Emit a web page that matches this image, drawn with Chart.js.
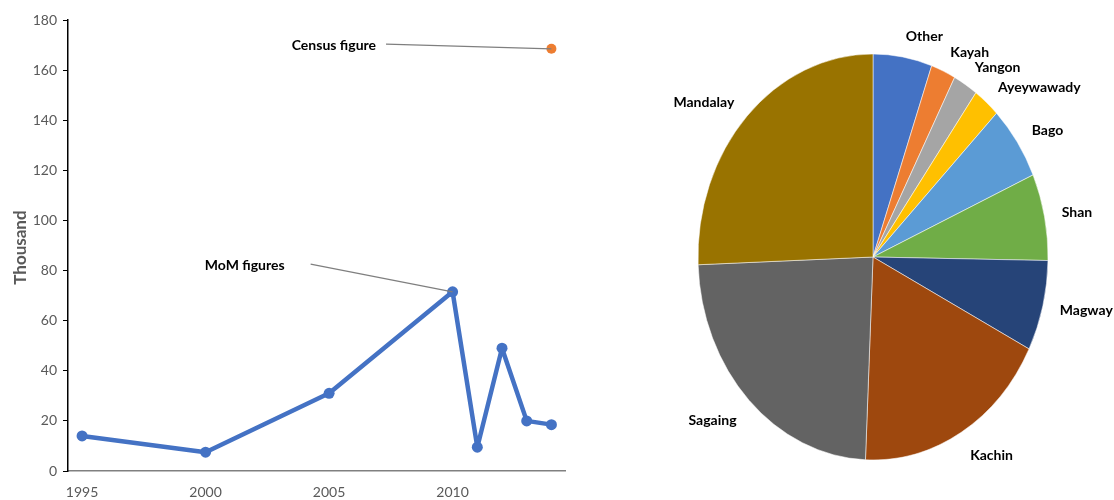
<!DOCTYPE html>
<html>
<head>
<meta charset="utf-8">
<script src="https://cdn.jsdelivr.net/npm/chart.js@4/dist/chart.umd.min.js"></script>
<style>
  html, body { margin: 0; padding: 0; background: #fff; }
  #wrap { position: relative; width: 1114px; height: 500px; }
  #lineBox { position: absolute; left: 0; top: 0; width: 580px; height: 500px; }
  #pieBox { position: absolute; left: 580px; top: 0; width: 534px; height: 500px; }
</style>
</head>
<body>
<div id="wrap">
  <div id="lineBox"><canvas id="lineChart" width="580" height="500"></canvas></div>
  <div id="pieBox"><canvas id="pieChart" width="534" height="500"></canvas></div>
</div>
<script>
// line chart data (thousand)
const years = [1995, 2000, 2005, 2010, 2011, 2012, 2013, 2014];
const momFigures = [14, 7.5, 31, 71.5, 9.5, 49, 20, 18.5];
const censusYear = [2014];
const censusFigure = [168.5];
const yTicks = [0, 20, 40, 60, 80, 100, 120, 140, 160, 180];
const xTicks = [1995, 2000, 2005, 2010];

// annotation text, anchored in data units at the right end of the text
const noteTexts = ['Census\u00a0figure', 'MoM\u00a0figures'];
const noteX = [2006.9, 2003.2];
const noteY = [170, 82.2];
const noteGap = [10, 26];

// pie data (share, %)
const regions = ['Other', 'Kayah', 'Yangon', 'Ayeywawady', 'Bago', 'Shan', 'Magway', 'Kachin', 'Sagaing', 'Mandalay'];
const shares = [5.44, 2.28, 2.28, 2.47, 5.9, 6.9, 7.2, 18.2, 23.7, 25.6];
const pieColors = ['#4472C4', '#ED7D31', '#A5A5A5', '#FFC000', '#5B9BD5', '#70AD47', '#264478', '#9E480E', '#636363', '#997300'];

const labelFont = "'Lato', 'Liberation Sans', sans-serif";

const notesPlugin = {
  id: 'notes',
  afterDatasetsDraw(chart) {
    const ctx = chart.ctx;
    const xs = chart.scales.x, ys = chart.scales.y;
    const targets = [chart.getDatasetMeta(1).data[0], chart.getDatasetMeta(0).data[3]];
    ctx.save();
    for (let i = 0; i < noteTexts.length; i++) {
      const tx = xs.getPixelForValue(noteX[i]);
      const ty = ys.getPixelForValue(noteY[i]);
      ctx.font = "bold 14px " + labelFont;
      ctx.fillStyle = '#000';
      ctx.textAlign = 'right';
      ctx.textBaseline = 'middle';
      ctx.fillText(noteTexts[i], tx, ty);
      ctx.strokeStyle = '#7f7f7f';
      ctx.lineWidth = 1.2;
      ctx.beginPath();
      ctx.moveTo(tx + noteGap[i], ty - 1);
      ctx.lineTo(targets[i].x, targets[i].y);
      ctx.stroke();
    }
    ctx.restore();
  }
};

new Chart(document.getElementById('lineChart'), {
  type: 'line',
  data: {
    datasets: [
      {
        data: years.map((y, i) => ({ x: y, y: momFigures[i] })),
        borderColor: '#4472C4',
        backgroundColor: '#4472C4',
        borderWidth: 4.5,
        borderJoinStyle: 'round',
        borderCapStyle: 'round',
        pointRadius: 5.5,
        pointBorderWidth: 0,
        tension: 0
      },
      {
        data: censusYear.map((y, i) => ({ x: y, y: censusFigure[i] })),
        borderColor: '#ED7D31',
        backgroundColor: '#ED7D31',
        pointRadius: 5,
        pointBorderWidth: 0,
        showLine: false
      }
    ]
  },
  options: {
    responsive: false,
    animation: false,
    layout: { padding: { top: 20, right: 15, left: 10, bottom: 0 } },
    plugins: { legend: { display: false }, tooltip: { enabled: false } },
    scales: {
      x: {
        type: 'linear',
        min: 1994.43,
        max: 2014.55,
        afterBuildTicks: s => { s.ticks = xTicks.map(v => ({ value: v })); },
        afterFit: s => { s.height = 29; },
        grid: { display: false, drawTicks: false },
        border: { color: '#808080', width: 1.5 },
        ticks: {
          color: '#595959', font: { family: labelFont, size: 14 }, padding: 13, maxRotation: 0,
          callback: v => String(v)
        }
      },
      y: {
        min: 0,
        max: 180,
        afterBuildTicks: s => { s.ticks = yTicks.map(v => ({ value: v })); },
        afterFit: s => { s.width = 58; },
        grid: { drawOnChartArea: false, drawTicks: true, tickLength: 5, color: '#000' },
        border: { color: '#000', width: 1.5 },
        ticks: { color: '#595959', font: { family: labelFont, size: 14 }, padding: 6 },
        title: {
          display: true,
          text: 'Thousand\u00a0',
          color: '#595959',
          font: { family: labelFont, size: 17, weight: 'bold' },
          padding: { top: 0, bottom: 6 }
        }
      }
    }
  },
  plugins: [notesPlugin]
});

// pie is drawn as an ellipse (taller than wide), like the reference
const stretchY = 203 / 175;
const stretchPlugin = {
  id: 'stretch',
  beforeDatasetsDraw(chart) {
    const arc = chart.getDatasetMeta(0).data[0];
    const ctx = chart.ctx;
    ctx.save();
    ctx.translate(0, arc.y);
    ctx.scale(1, stretchY);
    ctx.translate(0, -arc.y);
  },
  afterDatasetsDraw(chart) {
    chart.ctx.restore();
  }
};

const pieLabelPlugin = {
  id: 'pieLabels',
  afterDraw(chart) {
    const ctx = chart.ctx;
    ctx.save();
    ctx.font = "bold 14px " + labelFont;
    ctx.fillStyle = '#000';
    ctx.textBaseline = 'middle';
    chart.getDatasetMeta(0).data.forEach((arc, i) => {
      const mid = (arc.startAngle + arc.endAngle) / 2;
      const r = arc.outerRadius * 1.1;
      const px = arc.x + Math.cos(mid) * r;
      const py = arc.y + Math.sin(mid) * r * stretchY + (Math.sin(mid) > 0.3 ? 6 : 0);
      ctx.textAlign = Math.cos(mid) >= 0 ? 'left' : 'right';
      ctx.fillText(regions[i], px, py);
    });
    ctx.restore();
  }
};

new Chart(document.getElementById('pieChart'), {
  type: 'pie',
  data: {
    labels: regions,
    datasets: [{
      data: shares,
      backgroundColor: pieColors,
      borderColor: 'rgba(255,255,255,0.6)',
      borderWidth: 0.8
    }]
  },
  options: {
    responsive: false,
    animation: false,
    radius: 175,
    layout: { padding: { left: 100, right: 48, top: 57, bottom: 43 } },
    plugins: { legend: { display: false }, tooltip: { enabled: false } }
  },
  plugins: [stretchPlugin, pieLabelPlugin]
});
</script>
</body>
</html>
